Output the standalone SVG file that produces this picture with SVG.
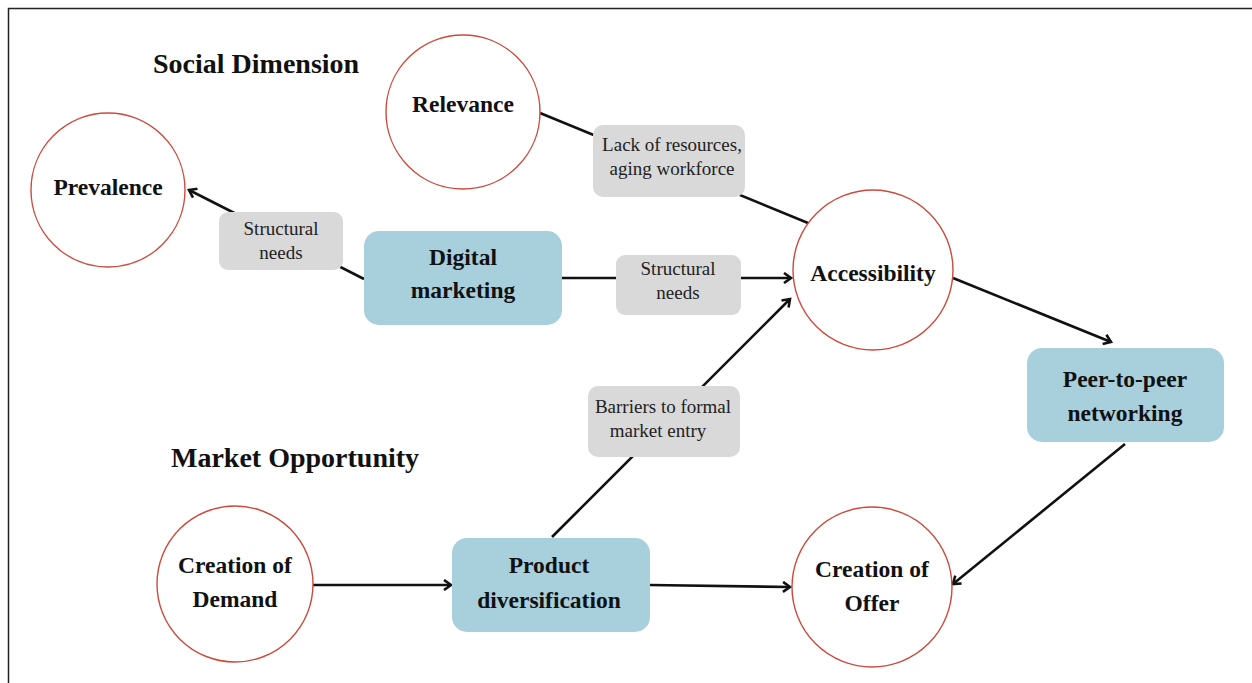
<svg xmlns="http://www.w3.org/2000/svg" width="1252" height="683" viewBox="0 0 1252 683">
  <style>
    .circle { fill: #ffffff; stroke: #cc4a3c; stroke-width: 1.4; }
    .box { fill: #a7cfdc; }
    .tag { fill: #d9d9d9; }
    .node-text { font-family: "Liberation Serif", "Times New Roman", serif; font-weight: bold; font-size: 23.5px; fill: #111; text-anchor: middle; }
    .tag-text { font-family: "Liberation Serif", "Times New Roman", serif; font-size: 19px; fill: #222; text-anchor: middle; }
    .title { font-family: "Liberation Serif", "Times New Roman", serif; font-weight: bold; font-size: 28px; fill: #111; }
    .edge { stroke: #111; stroke-width: 2.6; fill: none; }
  </style>
  <defs>
    <marker id="arrow" markerWidth="12" markerHeight="12" refX="9" refY="6" orient="auto" markerUnits="userSpaceOnUse">
      <path d="M2,1 L9,6 L2,11" fill="none" stroke="#111" stroke-width="2.6"/>
    </marker>
  </defs>

  <rect width="1252" height="683" fill="#ffffff"/>
  <!-- outer frame (top and left edges) -->
  <path d="M8.5,683 V8.5 H1252" fill="none" stroke="#222" stroke-width="1.5"/>

  <!-- section titles -->
  <text class="title" x="153" y="73">Social Dimension</text>
  <text class="title" x="171" y="467">Market Opportunity</text>

  <!-- connectors -->
  <g id="connectors">
    <line class="edge" x1="364" y1="279" x2="189" y2="190" marker-end="url(#arrow)"/>
    <line class="edge" x1="540" y1="113" x2="808" y2="223"/>
    <line class="edge" x1="562" y1="278" x2="791" y2="278" marker-end="url(#arrow)"/>
    <line class="edge" x1="552" y1="537" x2="790" y2="299" marker-end="url(#arrow)"/>
    <line class="edge" x1="953" y1="278" x2="1111" y2="342" marker-end="url(#arrow)"/>
    <line class="edge" x1="1125" y1="444" x2="953" y2="584" marker-end="url(#arrow)"/>
    <line class="edge" x1="313" y1="585" x2="451" y2="585" marker-end="url(#arrow)"/>
    <line class="edge" x1="650" y1="585" x2="790" y2="587" marker-end="url(#arrow)"/>
  </g>

  <!-- connector labels -->
  <g id="label-structural-left">
    <rect class="tag" x="219" y="212" width="124" height="58" rx="9"/>
    <text class="tag-text" x="281" y="235">Structural</text>
    <text class="tag-text" x="281" y="259">needs</text>
  </g>
  <g id="label-lack-resources">
    <rect class="tag" x="593" y="125" width="152" height="72" rx="10"/>
    <text class="tag-text" x="672" y="151">Lack of resources,</text>
    <text class="tag-text" x="672" y="175">aging workforce</text>
  </g>
  <g id="label-structural-mid">
    <rect class="tag" x="616" y="255" width="125" height="60" rx="9"/>
    <text class="tag-text" x="678" y="275">Structural</text>
    <text class="tag-text" x="678" y="299">needs</text>
  </g>
  <g id="label-barriers">
    <rect class="tag" x="588" y="386" width="152" height="71" rx="10"/>
    <text class="tag-text" x="663" y="413">Barriers to formal</text>
    <text class="tag-text" x="658" y="437">market entry</text>
  </g>

  <!-- circular nodes -->
  <g id="node-prevalence">
    <circle class="circle" cx="108" cy="190" r="77"/>
    <text class="node-text" x="108" y="195">Prevalence</text>
  </g>
  <g id="node-relevance">
    <circle class="circle" cx="463" cy="112" r="77"/>
    <text class="node-text" x="463" y="112">Relevance</text>
  </g>
  <g id="node-accessibility">
    <circle class="circle" cx="873" cy="270" r="80"/>
    <text class="node-text" x="873" y="281">Accessibility</text>
  </g>
  <g id="node-creation-offer">
    <circle class="circle" cx="872" cy="587" r="80"/>
    <text class="node-text" x="872" y="577">Creation of</text>
    <text class="node-text" x="872" y="611">Offer</text>
  </g>
  <g id="node-creation-demand">
    <circle class="circle" cx="235" cy="584" r="78"/>
    <text class="node-text" x="235" y="573">Creation of</text>
    <text class="node-text" x="235" y="607">Demand</text>
  </g>

  <!-- rectangular nodes -->
  <g id="node-digital-marketing">
    <rect class="box" x="364" y="231" width="198" height="94" rx="15"/>
    <text class="node-text" x="463" y="265">Digital</text>
    <text class="node-text" x="463" y="298">marketing</text>
  </g>
  <g id="node-peer-networking">
    <rect class="box" x="1027" y="348" width="197" height="94" rx="15"/>
    <text class="node-text" x="1125" y="387">Peer-to-peer</text>
    <text class="node-text" x="1125" y="421">networking</text>
  </g>
  <g id="node-product-diversification">
    <rect class="box" x="452" y="538" width="198" height="94" rx="15"/>
    <text class="node-text" x="549" y="573">Product</text>
    <text class="node-text" x="549" y="608">diversification</text>
  </g>
</svg>
